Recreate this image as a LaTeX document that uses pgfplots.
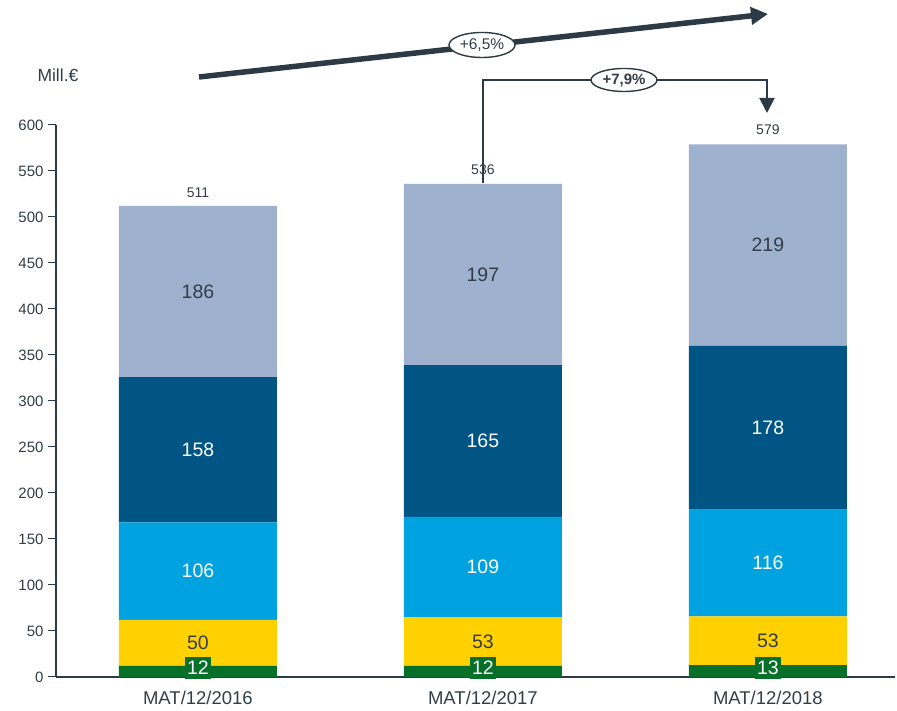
\documentclass[border=0pt]{standalone}
\usepackage{pgfplots}
\pgfplotsset{compat=1.18}
\usepackage{pgfplotstable}
\usepackage{fontspec}
\setmainfont{Liberation Sans}
\usetikzlibrary{arrows.meta,shapes.geometric}
\definecolor{cgreen}{HTML}{077028}
\definecolor{cyellow}{HTML}{FFD100}
\definecolor{ccyan}{HTML}{00A2DF}
\definecolor{cnavy}{HTML}{005585}
\definecolor{cgray}{HTML}{9EB1CF}
\definecolor{ctext}{HTML}{333D47}
\definecolor{carrow}{HTML}{2B3A44}

\pgfplotstableread{
x g y c n l
0 12 50 106 158 186
1 12 53 109 165 197
2 13 53 116 178 219
}\data

% label positions (segment mid-points) and texts
\pgfplotstableread{
x gm ym cm nm lm tm g y c n l t
0 10 37 115 247 419 511 12 50 106 158 186 511
1 10 38.5 119.5 256.5 437.5 536 12 53 109 165 197 536
2 10 39.5 124 271 469.5 579 13 53 116 178 219 579
}\labels

\pgfplotsset{
  common/.style={
    scale only axis, width=839pt, height=552pt,
    xmin=-0.498, xmax=2.446, ymin=0, ymax=600,
    at={(56pt,34pt)}, anchor=south west,
  },
  lab/.style={draw=none, nodes near coords, point meta=explicit symbolic,
    every node near coord/.append style={anchor=center, text=ctext,
      font=\fontsize{19.5}{21}\selectfont}},
}

\begin{document}
\begin{tikzpicture}
\path[use as bounding box] (0,0) rectangle (897pt,711pt);
\begin{axis}[common,
  ybar stacked, bar width=158pt,
  axis x line*=bottom, axis y line*=left,
  axis line style={carrow, line width=1.2pt},
  xtick=data, xticklabels={MAT/12/2016,MAT/12/2017,MAT/12/2018},
  x tick style={draw=none},
  ytick={0,50,...,600},
  y tick style={carrow, line width=1pt},
  tick align=outside, major tick length=8pt,
  y tick label style={font=\fontsize{15}{17}\selectfont, text=ctext, xshift=-1pt},
  x tick label style={font=\fontsize{18.5}{20}\selectfont, text=ctext, yshift=-3pt},
  /pgf/number format/assume math mode=true,
]
\addplot[fill=cgreen, draw=none] table[x=x, y=g] {\data};
\addplot[fill=cyellow, draw=none] table[x=x, y=y] {\data};
\addplot[fill=ccyan, draw=none] table[x=x, y=c] {\data};
\addplot[fill=cnavy, draw=none] table[x=x, y=n] {\data};
\addplot[fill=cgray, draw=none] table[x=x, y=l] {\data};
\end{axis}
\begin{axis}[common, hide axis, clip=false]
\addplot[lab, every node near coord/.append style={fill=cgreen, text=white, inner xsep=2pt, inner ysep=1pt, minimum height=22pt}] table[x=x, y=gm, meta=g] {\labels};
\addplot[lab] table[x=x, y=ym, meta=y] {\labels};
\addplot[lab, every node near coord/.append style={text=white}] table[x=x, y=cm, meta=c] {\labels};
\addplot[lab, every node near coord/.append style={text=white}] table[x=x, y=nm, meta=n] {\labels};
\addplot[lab] table[x=x, y=lm, meta=l] {\labels};
\addplot[lab, every node near coord/.append style={anchor=south, yshift=6pt, font=\fontsize{14}{16}\selectfont}] table[x=x, y=tm, meta=t] {\labels};
\end{axis}
% unit label
\node[anchor=west, text=ctext, font=\fontsize{17.5}{19}\selectfont] at (34pt,636pt) {Mill.€};
% overall growth arrow
\draw[carrow, line width=5.5pt, -{Triangle[length=17pt,width=17pt]}] (199pt,634pt) -- (768pt,697pt);
\node[ellipse, draw=carrow, line width=1.4pt, fill=white, inner sep=0pt, minimum width=66pt, minimum height=25pt, text=ctext, font=\fontsize{15.5}{17}\selectfont] at (482pt,666pt) {+6,5\%};
% year-on-year arrow
\draw[carrow, line width=2pt, -{Triangle[length=15pt,width=15pt]}] (483pt,528pt) -- (483pt,631pt) -- (767pt,631pt) -- (767pt,598pt);
\node[ellipse, draw=carrow, line width=1.4pt, fill=white, inner sep=0pt, minimum width=66pt, minimum height=23pt, text=ctext, font=\bfseries\fontsize{15}{17}\selectfont] at (624pt,631pt) {+7,9\%};
\end{tikzpicture}
\end{document}
